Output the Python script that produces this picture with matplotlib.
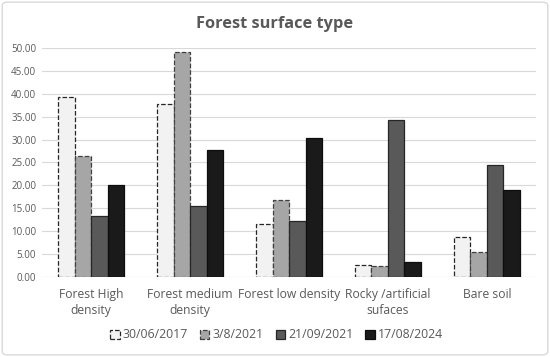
import matplotlib.pyplot as plt
import matplotlib.patches as patches
import numpy as np

categories = ['Forest High\ndensity', 'Forest medium\ndensity', 'Forest low density',
              'Rocky /artificial\nsufaces', 'Bare soil']
dates = ['30/06/2017', '3/8/2021', '21/09/2021', '17/08/2024']
v_2017 = [39.3, 37.7, 11.5, 2.7, 8.8]
v_2021a = [26.4, 49.2, 16.7, 2.3, 5.4]
v_2021b = [13.4, 15.6, 12.2, 34.3, 24.5]
v_2024 = [20.0, 27.8, 30.3, 3.2, 19.0]
series = [v_2017, v_2021a, v_2021b, v_2024]

fills = ['#f2f2f2', '#a6a6a6', '#595959', '#1a1a1a']
edges = ['#262626', '#404040', '#262626', '#0d0d0d']
styles = ['--', '--', '-', '-']

plt.rcParams['font.family'] = ['Open Sans', 'DejaVu Sans']

fig = plt.figure(figsize=(5.5, 3.57), dpi=100)
ax = fig.add_axes([0.076, 0.224, 0.899, 0.642])

x = np.arange(len(categories))
w = 0.167
for i, vals in enumerate(series):
    ax.bar(x + (i - 1.5) * w, vals, w, color=fills[i], edgecolor=edges[i],
           linewidth=0.9, linestyle=styles[i], label=dates[i], zorder=3)

ax.set_xlim(-0.5, 4.5)
ax.set_ylim(0, 50)
ax.set_yticks(np.arange(0, 50.1, 5))
ax.set_yticklabels([f'{t:.2f}' for t in np.arange(0, 50.1, 5)], fontsize=7, color='#595959')
ax.set_xticks(x)
ax.set_xticklabels(categories, fontsize=8.7, color='#595959', linespacing=1.3,
                   multialignment='center')
ax.tick_params(length=0, pad=4)
ax.tick_params(axis='x', pad=8)
ax.grid(axis='y', color='#d9d9d9', linewidth=0.8, zorder=0)
for s in ax.spines.values():
    s.set_visible(False)
ax.axhline(0, color='#d9d9d9', linewidth=0.8, zorder=1)

fig.text(0.5, 0.933, 'Forest surface type', ha='center', va='center',
         fontsize=11.8, fontweight='bold', color='#595959')

leg = fig.legend(loc='center', bbox_to_anchor=(0.503, 0.062), ncol=4, frameon=False,
                 fontsize=8.8, handlelength=0.75, handleheight=0.75, handletextpad=0.25,
                 columnspacing=1.0)
for t in leg.get_texts():
    t.set_color('#595959')

fig.patches.append(patches.FancyBboxPatch((0.004, 0.006), 0.992, 0.988,
                   boxstyle='round,pad=0,rounding_size=0.01', transform=fig.transFigure,
                   facecolor='none', edgecolor='#d9d9d9', linewidth=1))

fig.savefig('out.png', dpi=100)
